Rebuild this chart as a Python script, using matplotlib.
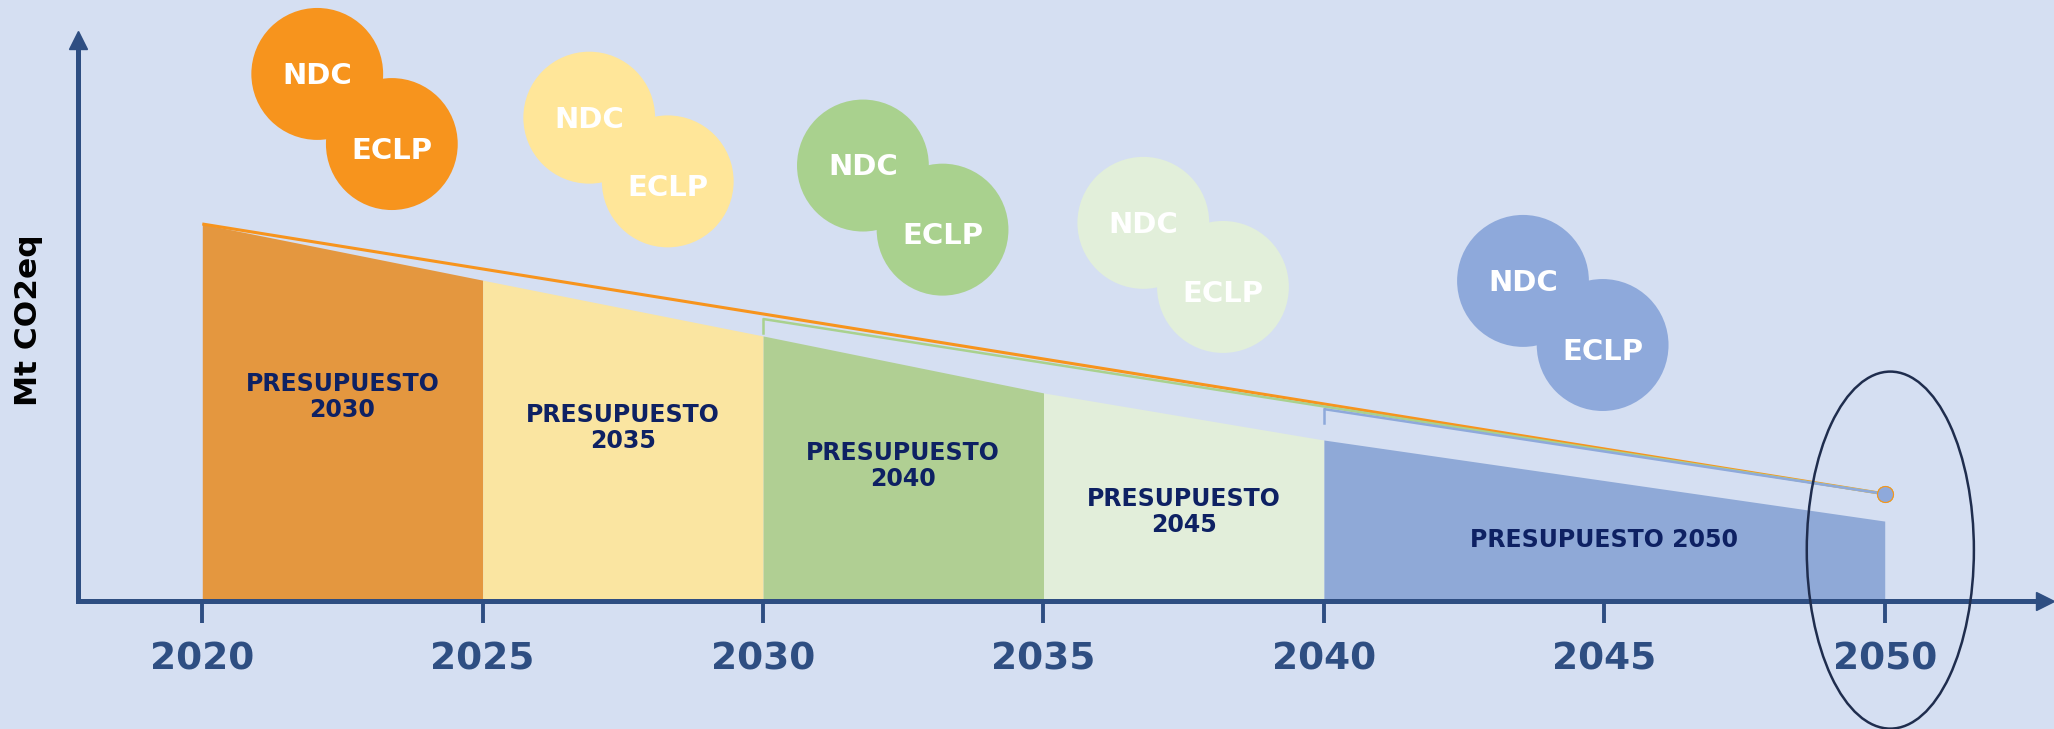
import matplotlib.pyplot as plt
from matplotlib.patches import Ellipse

# carbon budget periods (Mt CO2eq, indexed so that 2020 = 100)
years = [2020, 2025, 2030, 2035, 2040, 2050]
budget_top = [100, 85.1, 70.3, 55.2, 42.7, 21.2]
budget_names = ['PRESUPUESTO\n2030', 'PRESUPUESTO\n2035', 'PRESUPUESTO\n2040',
                'PRESUPUESTO\n2045', 'PRESUPUESTO 2050']

# NDC / ECLP trajectories that all end at the 2050 target
traj_start_year = [2020, 2030, 2040]
traj_start_value = [100, 74.8, 50.9]
traj_drop_value = [None, 71.0, 47.2]
target_year = 2050
target_value = 28.4

tick_years = [2020, 2025, 2030, 2035, 2040, 2045, 2050]

# colours
bg = '#D5DFF2'
axis_col = '#2E4E82'
text_col = '#0E2163'
budget_colors = ['#E4973F', '#FAE5A1', '#B0CF93', '#E2EEDA', '#8FA9D7']
bubble_colors = ['#F7941D', '#FFE699', '#A9D18E', '#E2EFDA', '#8EA9DB']
traj_colors = ['#F7941D', '#A9D18E', '#8EA9DB']

# layout of the labels and bubbles (data coords)
label_y = [54.1, 46.0, 35.8, 23.6, 16.2]
ndc_x = [2022.05, 2026.90, 2031.78, 2036.78, 2043.55]
ndc_y = [139.8, 128.2, 115.5, 100.3, 84.9]
eclp_x = [2023.38, 2028.30, 2033.20, 2038.20, 2044.97]
eclp_y = [121.2, 111.3, 98.5, 83.3, 67.9]
bubble_w = 2.35
bubble_h = 35.0

fig = plt.figure(figsize=(20.54, 7.29), dpi=100)
fig.patch.set_facecolor(bg)
ax = fig.add_axes([78 / 2054, 128 / 729, (2045 - 78) / 2054, (601 - 40) / 729])
ax.set_facecolor(bg)
ax.set_xlim(2017.784, 2052.858)
ax.set_ylim(0, 148.8)

# budget areas
for i in range(len(budget_names)):
    ax.fill_between([years[i], years[i + 1]], [budget_top[i], budget_top[i + 1]], 0,
                    color=budget_colors[i], linewidth=0, zorder=1)
    mid = (years[i] + years[i + 1]) / 2
    ax.text(mid, label_y[i], budget_names[i], ha='center', va='center', fontsize=17,
            fontweight='bold', color=text_col, linespacing=1.1, zorder=5)

# trajectories
for i in range(len(traj_start_year)):
    lw = 2.2 if i == 0 else 1.8
    ax.plot([traj_start_year[i], target_year], [traj_start_value[i], target_value],
            color=traj_colors[i], lw=lw, zorder=3, solid_capstyle='butt')
    if traj_drop_value[i] is not None:
        ax.plot([traj_start_year[i], traj_start_year[i]], [traj_drop_value[i], traj_start_value[i]],
                color=traj_colors[i], lw=lw, zorder=3)
for i in range(len(traj_colors)):
    ax.plot(target_year, target_value, 'o', ms=11.5, mfc=traj_colors[i],
            mec=traj_colors[0] if i == 2 else traj_colors[i], mew=0.8, zorder=4)

# NDC / ECLP bubbles
for i in range(len(bubble_colors)):
    for bx, by in [(ndc_x[i], ndc_y[i]), (eclp_x[i], eclp_y[i])]:
        ax.add_patch(Ellipse((bx, by), bubble_w, bubble_h, color=bubble_colors[i],
                             lw=0, clip_on=False, zorder=2))
    ax.text(ndc_x[i], ndc_y[i] - 0.5, 'NDC', ha='center', va='center', fontsize=21,
            fontweight='bold', color='white', zorder=6, clip_on=False)
    ax.text(eclp_x[i], eclp_y[i] - 1.8, 'ECLP', ha='center', va='center', fontsize=21,
            fontweight='bold', color='white', zorder=6, clip_on=False)

# ellipse round 2050
ax.add_patch(Ellipse((2050.1, 13.5), 2.98, 94.7, fill=False, ec='#1F2D4E', lw=1.8,
                     clip_on=False, zorder=6))

# axes with arrow heads
for side in ['top', 'right']:
    ax.spines[side].set_visible(False)
for side in ['left', 'bottom']:
    ax.spines[side].set_color(axis_col)
    ax.spines[side].set_linewidth(3.6)
    ax.spines[side].set_zorder(4)
ax.plot([1], [0], marker='>', ms=13, color=axis_col, transform=ax.transAxes, clip_on=False)
ax.plot([0], [1], marker='^', ms=13, color=axis_col, transform=ax.transAxes, clip_on=False)

ax.set_xticks(tick_years)
ax.set_xticklabels([str(y) for y in tick_years])
ax.tick_params(axis='x', length=16, width=2.8, color=axis_col, pad=13,
               labelsize=27, labelcolor=axis_col)
for lbl in ax.get_xticklabels():
    lbl.set_fontweight('bold')
ax.set_yticks([])
ax.set_ylabel('Mt CO2eq', fontsize=22.5, fontweight='bold', color='black', labelpad=25)

fig.savefig('out.png', dpi=100, facecolor=bg)
